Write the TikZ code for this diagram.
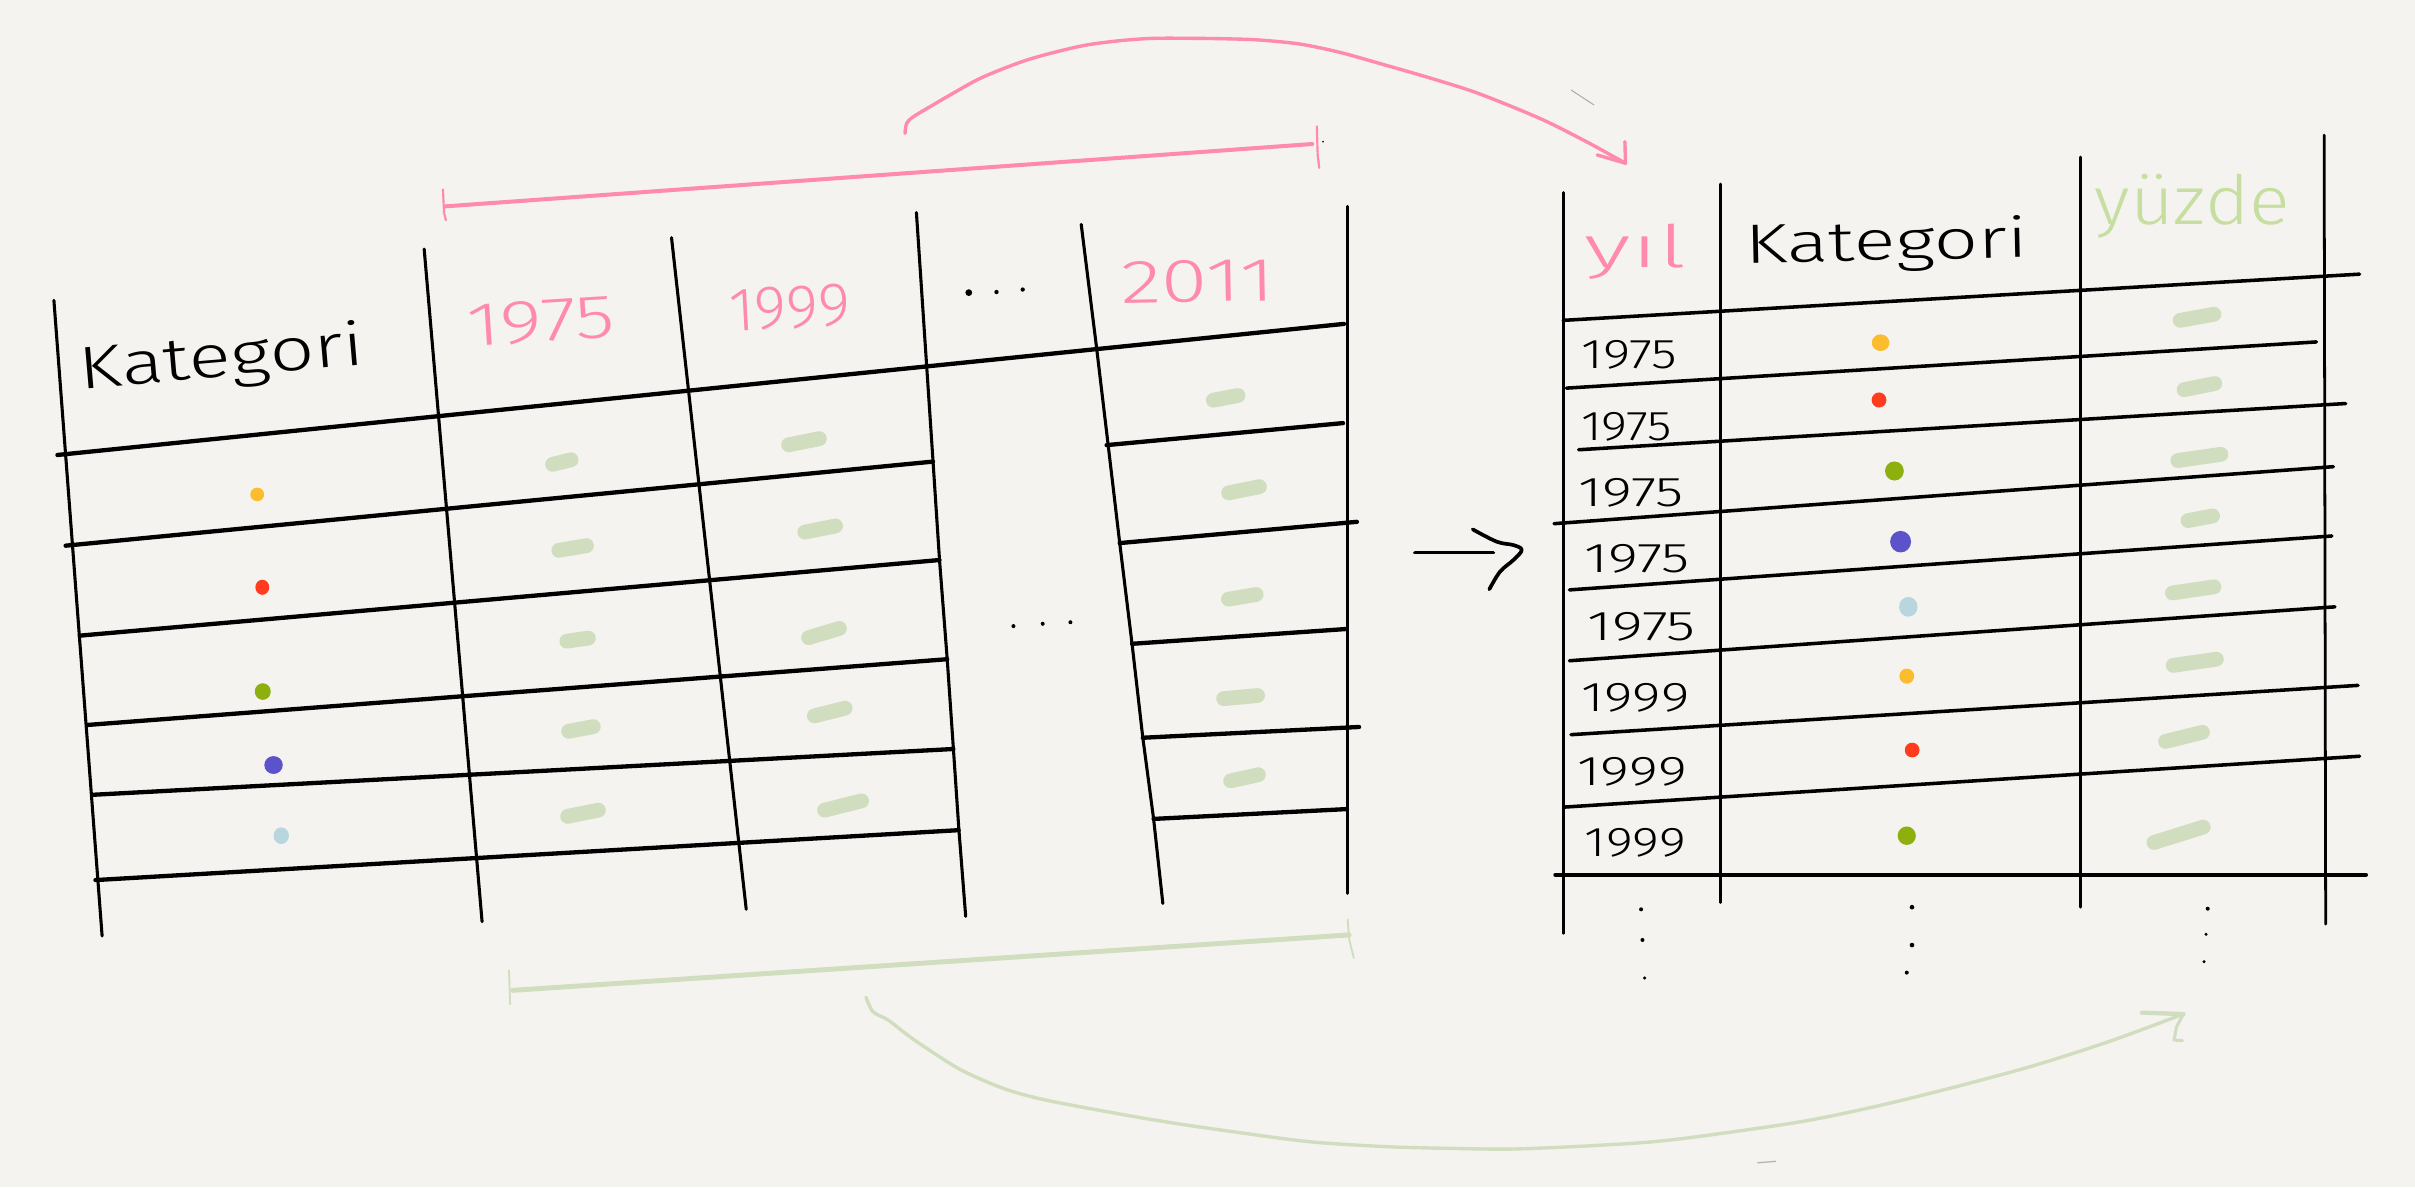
\documentclass[tikz,border=0pt]{standalone}
\usepackage{graphicx}
\usepackage{fontspec}
\setsansfont{Fira Sans Light}
\definecolor{bgc}{RGB}{244,243,239}
\definecolor{pinkc}{RGB}{255,138,171}
\definecolor{sagec}{RGB}{208,221,190}
\definecolor{yuzc}{RGB}{198,222,160}
\definecolor{dyel}{RGB}{251,188,45}
\definecolor{dred}{RGB}{255,60,30}
\definecolor{dgrn}{RGB}{141,176,14}
\definecolor{dpur}{RGB}{92,82,204}
\definecolor{dblu}{RGB}{185,213,222}
\newcommand\mydash[4]{\draw[dashst] ({#1-#3},{#2+#4}) -- ({#1+#3},{#2-#4});}
\newcommand\mydot[5]{\fill[#1] (#2,#3) ellipse [x radius=#4, y radius=#5];}
\newcommand\hwtext[3]{\fontsize{#1}{#1}\selectfont\resizebox{#2}{\height}{#3}}
\begin{document}
\begin{tikzpicture}[x=0.5pt,y=-0.5pt,
  hw/.style={inner sep=0pt, anchor=base, font=\sffamily},
  lh/.style={line width=1.4pt, line cap=round, line join=round},
  lv/.style={line width=1.0pt, line cap=round, line join=round},
  rh/.style={line width=1.15pt, line cap=round},
  rv/.style={line width=0.9pt, line cap=round},
  dashst/.style={sagec, line width=4.8pt, line cap=round},
  pinkln/.style={pinkc, line cap=round, line join=round},
  sageln/.style={sagec, line cap=round, line join=round}]
\fill[bgc] (0,0) rectangle (1568,771);
\useasboundingbox (0,0) rectangle (1568,771);

% ---------- left table ----------
\draw[lv] (35,195) -- (66.3,607.7);
\draw[lv] (275.4,161.7) -- (313,598.4);
\draw[lv] (436,154.3) -- (484.5,590.4);
\draw[lv] (595,138) -- (605.8,299.7) -- (610,363.6) -- (615,428) -- (619,486) -- (622.6,539) -- (627,595);
\draw[lv] (702,145.7) -- (712,226) -- (719.5,289) -- (727,352.6) -- (735,418) -- (742,479) -- (749,531.7) -- (755,586.6);
\draw[lv] (875,134) -- (875,580);
\draw[lh] (37.3,295.4) -- (872.6,210.3);
\draw[lh] (42.6,354.3) -- (605.8,299.7);
\draw[lh] (51.8,412.7) -- (610,363.6);
\draw[lh] (56.7,470.7) -- (615,428);
\draw[lh] (60.9,516) -- (619,486.3);
\draw[lh] (62,571.4) -- (622.4,539);
\draw[lh] (718.5,289) -- (872,274.7);
\draw[lh] (727,352.6) -- (881,338.8);
\draw[lh] (735,418) -- (874,408.4);
\draw[lh] (742,479) -- (882.4,472);
\draw[lh] (749,531.7) -- (874.6,525.3);

\node[hw, rotate=4.9] (lkat) at (145,244.7) {\hwtext{19.5}{93pt}{Kategori}};
\node[hw, text=pinkc, rotate=3.6] (ly75) at (352,222) {\hwtext{20}{48pt}{1975}};
\node[hw, text=pinkc, rotate=3] (ly99) at (513.5,213) {\hwtext{20}{39.5pt}{1999}};
\node[hw, text=pinkc, rotate=1] (ly11) at (778,196) {\hwtext{20}{50pt}{2011}};

% ellipsis dots
\fill (629,190) circle [radius=2.2];
\fill (647,189.6) circle [radius=1.4];
\fill (664,188) circle [radius=1.4];
\fill (658,406.5) circle [radius=1.3];
\fill (677,405) circle [radius=1.3];
\fill (695,404) circle [radius=1.3];

% category dots (left)
\mydot{dyel}{167}{321}{4.5}{4.4}
\mydot{dred}{170.3}{381.3}{4.5}{4.9}
\mydot{dgrn}{170.6}{449}{5.2}{5.4}
\mydot{dpur}{177.6}{496.7}{6}{5.8}
\mydot{dblu}{182.6}{542.6}{5}{5.4}

% value dashes (left)
\mydash{364.8}{300}{6}{1.5}
\mydash{371.8}{355.8}{9}{1.5}
\mydash{375}{415.3}{7}{1}
\mydash{377.2}{473.3}{8}{1.5}
\mydash{378.5}{528}{10}{2}
\mydash{522}{286.8}{10}{2}
\mydash{532.5}{343.5}{10}{2}
\mydash{535}{411}{10}{3}
\mydash{538.7}{462.3}{10}{2.5}
\mydash{547.4}{523}{12}{3}
\mydash{795.8}{258.3}{8}{1.5}
\mydash{807.7}{318}{10}{2}
\mydash{806.6}{387.5}{9}{1.5}
\mydash{805.5}{452.6}{11}{1}
\mydash{808}{505}{9}{2}

% ---------- pink bracket and arc ----------
\draw[pinkln, line width=1.3pt] (289,134) -- (852,93.5);
\draw[pinkln, line width=0.7pt] (287.6,123) -- (288.3,138) -- (289.5,143);
\draw[pinkln, line width=0.7pt] (855,82) -- (855.5,100) -- (856.5,109);
\fill (859,92) circle [radius=0.6];
\coordinate (pa) at (587.6,86.6);
\coordinate (pb) at (1055.4,106);
\draw[pinkln, line width=1.1pt] plot[smooth, tension=0.5] coordinates {(pa) (588.7,80) (593,75.8) (603.8,69.3) (616.8,61.7) (634.1,52) (649.3,45.4) (666.6,39) (686,33.6) (705.6,29.2) (727.2,26.4) (748.8,24.9) (777,24.9) (800.8,25.3) (818,26) (844,28.6) (870,34) (895,41) (928,50.5) (959.7,60.6) (1000,77) (1030,92) (pb)};
\draw[pinkln, line width=1.1pt] (1055,92) -- (pb) -- (1037,100.6);
\draw[gray!70, line width=0.3pt] (1020,58.4) -- (1035,68.2);

% ---------- green bracket and arc ----------
\draw[sageln, line width=1.6pt] (332.9,643) -- (876,607);
\draw[sageln, line width=0.6pt] (330.5,630) -- (331.2,652);
\draw[sageln, line width=0.6pt] (875,597) -- (876,610) -- (879,622);
\coordinate (ga) at (562.3,647.5);
\coordinate (gb) at (1417.6,658.4);
\draw[sageln, line width=1.1pt] plot[smooth, tension=0.5] coordinates {(ga) (566.8,656.9) (576.7,662.3) (589.2,672) (601.6,680.6) (624,694.7) (651.3,706.6) (678.8,714.2) (731,724) (763.4,729.4) (800.6,734.8) (850.4,741.3) (900.2,744.5) (942,745.6) (983.6,746) (1040,743.5) (1086,740) (1165,729) (1215,719) (1266,706.6) (1320,692) (1370,676) (gb)};
\draw[sageln, line width=1.4pt] (1390.6,657.5) -- (gb);
\draw[sageln, line width=1pt] (gb) -- (1413.2,666.6) -- (1411.5,675.3) -- (1417,675.6);
\draw[gray!60, line width=0.4pt] (1141,755) -- (1153,754);

% ---------- middle arrow ----------
\coordinate (ma) at (918.7,358.8);
\coordinate (mb) at (988,357.1);
\draw[line width=1.2pt, line cap=round] (ma) -- (969.5,358.8);
\draw[line width=1.2pt, line cap=round, line join=round] plot[smooth, tension=0.6] coordinates {(956.2,343.7) (971.8,351.7) (982.6,353.9) (mb) (982.6,363.6) (973.9,371.2) (967,382.6)};

% ---------- right table ----------
\draw[rv] (1015,125) -- (1015,606);
\draw[rv] (1117,119.5) -- (1117,586);
\draw[rv] (1351,102) -- (1351,589);
\draw[rv] (1509,87.7) -- (1510,600);
\draw[rh] (1015,208) -- (1532,178);
\draw[rh] (1017,252) -- (1504,222);
\draw[rh] (1025,292) -- (1523,262);
\draw[rh] (1009,340) -- (1515,303);
\draw[rh] (1019,383) -- (1514,348);
\draw[rh] (1019,429) -- (1516,394);
\draw[rh] (1020,477) -- (1531,445);
\draw[rh] (1016,524) -- (1532,491);
\draw[line width=1.5pt, line cap=round] (1010,568) -- (1536,568);

\node[hw, text=pinkc] (ryil) at (1062,174) {\hwtext{19}{33pt}{yıl}};
\node[hw, rotate=1.2] (rkat) at (1225,169) {\hwtext{18}{92pt}{Kategori}};
\node[hw, text=yuzc] (ryuz) at (1423.5,146) {\hwtext{22}{63.5pt}{yüzde}};

\node[hw] (r1) at (1058,239) {\hwtext{13.5}{31pt}{1975}};
\node[hw] (r2) at (1056,286) {\hwtext{13.5}{29.5pt}{1975}};
\node[hw] (r3) at (1059,329) {\hwtext{13.5}{34pt}{1975}};
\node[hw] (r4) at (1063,372) {\hwtext{13.5}{34pt}{1975}};
\node[hw] (r5) at (1066,416) {\hwtext{13.5}{35pt}{1975}};
\node[hw] (r6) at (1062,462) {\hwtext{13.5}{35pt}{1999}};
\node[hw] (r7) at (1060,510) {\hwtext{13.5}{35.5pt}{1999}};
\node[hw] (r8) at (1062,556) {\hwtext{13.5}{33pt}{1999}};

% category dots (right)
\mydot{dyel}{1221}{222.5}{5.7}{5.4}
\mydot{dred}{1220}{259.7}{4.8}{4.9}
\mydot{dgrn}{1230}{305.8}{6.1}{6.2}
\mydot{dpur}{1234}{351.7}{6.8}{7}
\mydot{dblu}{1239}{394}{6}{6.4}
\mydot{dyel}{1238}{439}{4.8}{4.9}
\mydot{dred}{1241.5}{487}{4.8}{4.8}
\mydot{dgrn}{1238}{542.6}{5.9}{6}

% value dashes (right)
\mydash{1426.5}{206}{11}{2}
\mydash{1428}{251}{10}{2}
\mydash{1428}{297}{14}{2}
\mydash{1428.6}{336.5}{8}{1.5}
\mydash{1424}{383}{13.5}{2}
\mydash{1425}{430}{14}{2}
\mydash{1418}{478.4}{12}{3}
\mydash{1414.5}{542}{16}{5}

% vertical ellipses
\fill (1065.5,590.4) circle [radius=1.3];
\fill (1066.4,610.3) circle [radius=1.3];
\fill (1067.8,635) circle [radius=1.1];
\fill (1241.4,589) circle [radius=1.5];
\fill (1241.4,613.6) circle [radius=1.5];
\fill (1238,631.5) circle [radius=1.3];
\fill (1433.4,590) circle [radius=1.3];
\fill (1432.3,606.6) circle [radius=1.1];
\fill (1431,624.4) circle [radius=1.1];
\end{tikzpicture}
\end{document}
